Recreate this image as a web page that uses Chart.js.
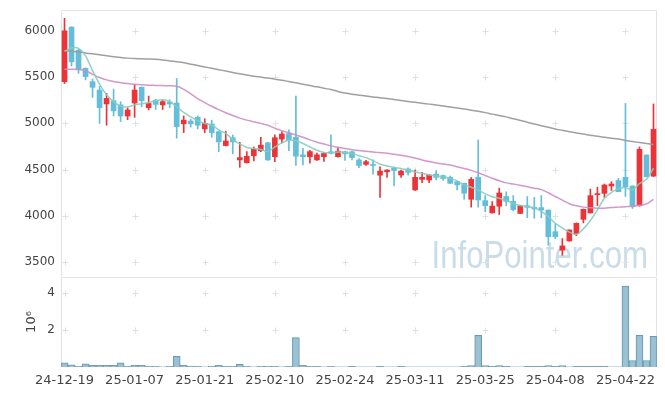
<!DOCTYPE html>
<html>
<head>
<meta charset="utf-8">
<script src="https://cdn.jsdelivr.net/npm/chart.js@4"></script>
<style>
body { margin: 0; background: #fff; }
#wrap { position: relative; width: 665px; height: 396px; }
#price { position: absolute; left: 0; top: 0; }
#volume { position: absolute; left: 0; top: 269px; }
</style>
</head>
<body>
<div id="wrap">
    <canvas id="price" width="665" height="285"></canvas>
    <canvas id="volume" width="665" height="127"></canvas>
</div>
<script>
const dates = ["24-12-19", "24-12-20", "24-12-23", "24-12-24", "24-12-26", "24-12-27", "24-12-30",
    "25-01-02", "25-01-03", "25-01-06", "25-01-07", "25-01-08", "25-01-09", "25-01-10", "25-01-13",
    "25-01-14", "25-01-15", "25-01-16", "25-01-17", "25-01-20", "25-01-21", "25-01-22", "25-01-23",
    "25-01-24", "25-01-31", "25-02-03", "25-02-04", "25-02-05", "25-02-06", "25-02-07", "25-02-10",
    "25-02-11", "25-02-12", "25-02-13", "25-02-14", "25-02-17", "25-02-18", "25-02-19", "25-02-20",
    "25-02-21", "25-02-24", "25-02-25", "25-02-26", "25-02-27", "25-02-28", "25-03-04", "25-03-05",
    "25-03-06", "25-03-07", "25-03-10", "25-03-11", "25-03-12", "25-03-13", "25-03-14", "25-03-17",
    "25-03-18", "25-03-19", "25-03-20", "25-03-21", "25-03-24", "25-03-25", "25-03-26", "25-03-27",
    "25-03-28", "25-03-31", "25-04-01", "25-04-02", "25-04-03", "25-04-04", "25-04-07", "25-04-08",
    "25-04-09", "25-04-10", "25-04-11", "25-04-14", "25-04-15", "25-04-16", "25-04-17", "25-04-18",
    "25-04-21", "25-04-22", "25-04-23", "25-04-24", "25-04-25", "25-04-28"];

const open = [5450, 6040, 5790, 5595, 5450, 5360, 5210, 5245, 5200, 5080, 5220, 5390, 5170, 5250, 5200,
    5230, 5220, 4995, 5025, 5065, 4940, 4993, 4910, 4760, 4845, 4605, 4575, 4650, 4705, 4790, 4640,
    4830, 4890, 4850, 4660, 4640, 4605, 4640, 4693, 4640, 4695, 4693, 4605, 4557, 4555, 4440, 4477,
    4515, 4442, 4507, 4280, 4395, 4388, 4452, 4435, 4417, 4370, 4352, 4180, 4417, 4165, 4033, 4105,
    4210, 4158, 4027, 4110, 4093, 4090, 4063, 3830, 3630, 3730, 3808, 3963, 4032, 4230, 4244, 4323,
    4381, 4417, 4323, 4110, 4658, 4430];
const high = [6135, 6045, 5800, 5600, 5480, 5400, 5325, 5370, 5235, 5170, 5415, 5395, 5295, 5260, 5250,
    5255, 5485, 5080, 5045, 5080, 5050, 5035, 4915, 4915, 4875, 4795, 4695, 4745, 4850, 4795, 4875,
    4910, 4930, 5295, 4730, 4710, 4680, 4680, 4875, 4735, 4700, 4700, 4620, 4600, 4605, 4530, 4500,
    4530, 4495, 4520, 4495, 4470, 4450, 4490, 4440, 4430, 4375, 4355, 4415, 4820, 4220, 4155, 4300,
    4260, 4220, 4115, 4210, 4200, 4220, 4065, 3910, 3755, 3850, 3925, 4075, 4290, 4310, 4345, 4370,
    4405, 5215, 4325, 4745, 4660, 5210];
const low = [5430, 5620, 5540, 5470, 5280, 5000, 4980, 5080, 5020, 5040, 5065, 5180, 5145, 5150, 5150,
    5170, 4840, 4900, 4960, 4940, 4900, 4850, 4695, 4755, 4670, 4525, 4570, 4595, 4695, 4600, 4585,
    4790, 4705, 4545, 4550, 4570, 4600, 4590, 4670, 4635, 4600, 4605, 4520, 4545, 4450, 4200, 4415,
    4325, 4415, 4440, 4275, 4360, 4360, 4390, 4385, 4350, 4280, 4180, 4095, 4095, 4045, 4030, 4015,
    4110, 4055, 4025, 3980, 3975, 3980, 3685, 3755, 3575, 3725, 3785, 3925, 4030, 4110, 4200, 4275,
    4260, 4210, 4080, 4105, 4420, 4425];
const close = [6000, 5665, 5585, 5505, 5390, 5170, 5270, 5135, 5080, 5145, 5360, 5245, 5215, 5205, 5235,
    5210, 4965, 5035, 4995, 4980, 5000, 4900, 4800, 4810, 4800, 4630, 4645, 4720, 4765, 4605, 4845,
    4885, 4820, 4645, 4640, 4695, 4660, 4675, 4676, 4700, 4670, 4630, 4545, 4586, 4545, 4485, 4496,
    4490, 4485, 4471, 4417, 4417, 4442, 4417, 4405, 4352, 4335, 4245, 4395, 4172, 4110, 4106, 4248,
    4158, 4068, 4110, 4093, 4075, 4063, 3775, 3775, 3676, 3848, 3920, 4071, 4219, 4237, 4334, 4345,
    4262, 4316, 4100, 4720, 4424, 4935];

const ma5 = [5780, 5815, 5810, 5730, 5570, 5425, 5310, 5235, 5185, 5178, 5200, 5212, 5225, 5245, 5255,
    5235, 5180, 5118, 5070, 5030, 4998, 4980, 4930, 4892, 4825, 4778, 4740, 4728, 4718, 4695, 4745,
    4790, 4818, 4812, 4782, 4745, 4710, 4685, 4682, 4690, 4685, 4678, 4650, 4630, 4598, 4560, 4540,
    4522, 4512, 4496, 4475, 4460, 4442, 4432, 4424, 4406, 4378, 4336, 4310, 4280, 4238, 4208, 4190,
    4165, 4135, 4112, 4098, 4088, 4050, 3992, 3920, 3870, 3825, 3800, 3860, 3950, 4065, 4190, 4255,
    4295, 4305, 4280, 4350, 4395, 4515];
const ma20 = [5585, 5585, 5583, 5568, 5530, 5495, 5470, 5452, 5440, 5430, 5422, 5416, 5412, 5410, 5408,
    5406, 5400, 5368, 5320, 5268, 5225, 5185, 5148, 5115, 5085, 5057, 5035, 5017, 5000, 4980, 4948,
    4922, 4898, 4875, 4850, 4822, 4797, 4777, 4757, 4742, 4728, 4716, 4706, 4698, 4690, 4684, 4677,
    4666, 4655, 4642, 4625, 4605, 4587, 4572, 4561, 4550, 4532, 4512, 4492, 4466, 4437, 4407, 4380,
    4357, 4345, 4332, 4316, 4300, 4284, 4250, 4210, 4170, 4132, 4110, 4095, 4088, 4083, 4083, 4090,
    4095, 4100, 4105, 4115, 4130, 4180];
const ma60 = [5785, 5778, 5770, 5760, 5752, 5742, 5730, 5720, 5712, 5705, 5700, 5697, 5695, 5692, 5685,
    5675, 5665, 5655, 5640, 5625, 5610, 5595, 5580, 5565, 5550, 5535, 5522, 5510, 5500, 5490, 5478,
    5466, 5452, 5438, 5422, 5408, 5395, 5380, 5365, 5345, 5328, 5315, 5305, 5295, 5286, 5278, 5268,
    5258, 5248, 5237, 5227, 5218, 5208, 5198, 5188, 5177, 5166, 5155, 5143, 5130, 5116, 5100, 5085,
    5070, 5050, 5032, 5012, 4994, 4975, 4957, 4940, 4925, 4910, 4897, 4884, 4872, 4860, 4850, 4840,
    4830, 4815, 4803, 4793, 4782, 4772];

const volume = [230000, 120000, 40000, 170000, 90000, 90000, 90000, 90000, 230000, 40000, 90000, 90000,
    40000, 40000, 5000, 40000, 570000, 90000, 40000, 40000, 5000, 40000, 90000, 40000, 40000, 150000,
    40000, 5000, 40000, 40000, 40000, 5000, 40000, 1580000, 90000, 40000, 40000, 5000, 40000, 5000,
    5000, 30000, 5000, 5000, 5000, 30000, 5000, 5000, 30000, 5000, 5000, 5000, 5000, 5000, 5000, 5000,
    5000, 30000, 80000, 1700000, 80000, 30000, 80000, 30000, 5000, 5000, 30000, 30000, 30000, 80000,
    30000, 80000, 5000, 30000, 30000, 30000, 30000, 30000, 5000, 5000, 4350000, 350000, 1700000,
    350000, 1650000];

const priceTicks = [3500, 4000, 4500, 5000, 5500, 6000];
const volumeTicks = [2000000, 4000000];
const dateTicks = ["24-12-19", "25-01-07", "25-01-21", "25-02-10", "25-02-24", "25-03-11", "25-03-25",
    "25-04-08", "25-04-22"];

const upColor = "rgb(236,52,56)";
const downColor = "rgb(100,190,218)";
const candleColors = close.map((c, i) => c >= open[i] ? upColor : downColor);
const labelFont = {family: "DejaVu Sans", size: 12};
// invisible tick marks keep the labels 6px off the axis without adding vertical padding
const hiddenTicks = {display: true, drawOnChartArea: false, drawTicks: true, tickLength: 6, color: "rgba(0,0,0,0)"};

// little "+" marks where the grid lines would cross, plus the frame
const crossGrid = {
    id: "crossGrid",
    beforeDatasetsDraw(chart, args, opts) {
        const {ctx, chartArea: a, scales} = chart;
        const l = Math.round(a.left) + 0.5, r = Math.round(a.right) - 0.5;
        const t = Math.round(a.top) + 0.5, b = Math.round(a.bottom) - 0.5;
        ctx.save();
        ctx.lineWidth = 1;
        ctx.strokeStyle = "#e2e2e2";
        ctx.beginPath();
        ctx.moveTo(l, b); ctx.lineTo(l, t); ctx.lineTo(r, t); ctx.lineTo(r, b);
        ctx.stroke();
        ctx.strokeStyle = "#e0e0e0";
        ctx.beginPath();
        dates.forEach((d, i) => {
            if (!dateTicks.includes(d)) return;
            const x = Math.round(scales.x.getPixelForValue(i)) + 0.5;
            scales.y.ticks.forEach(tk => {
                const y = Math.round(scales.y.getPixelForValue(tk.value)) + 0.5;
                ctx.moveTo(x - 3, y); ctx.lineTo(x + 3, y);
                ctx.moveTo(x, y - 3); ctx.lineTo(x, y + 3);
            });
        });
        ctx.stroke();
        ctx.restore();
    }
};

const watermark = {
    id: "watermark",
    beforeDatasetsDraw(chart) {
        const {ctx, chartArea: a} = chart;
        ctx.save();
        ctx.translate(a.right - 9, a.bottom - 9);
        ctx.scale(0.82, 1);
        ctx.font = '38px "Liberation Sans", sans-serif';
        ctx.fillStyle = "rgba(150,186,208,0.5)";
        ctx.textAlign = "right";
        ctx.textBaseline = "alphabetic";
        ctx.fillText("InfoPointer.com", 0, 0);
        ctx.restore();
    }
};

let priceChart = new Chart(document.getElementById("price"), {
    type: "bar",
    data: {
        labels: dates,
        datasets: [
            {type: "line", label: "MA5", data: ma5, borderColor: "rgba(135,204,190,0.9)", borderWidth: 1.5,
                pointRadius: 0, tension: 0.3, order: 0},
            {type: "line", label: "MA20", data: ma20, borderColor: "rgba(205,140,200,0.9)", borderWidth: 1.5,
                pointRadius: 0, tension: 0.3, order: 0},
            {type: "line", label: "MA60", data: ma60, borderColor: "rgba(155,155,155,0.95)", borderWidth: 1.5,
                pointRadius: 0, tension: 0.3, order: 0},
            {label: "body", data: dates.map((d, i) => [open[i], close[i]]), backgroundColor: candleColors,
                barThickness: 5, minBarLength: 1, grouped: false, order: 1},
            {label: "wick", data: dates.map((d, i) => [low[i], high[i]]), backgroundColor: candleColors,
                barThickness: 1, grouped: false, order: 2}
        ]
    },
    options: {
        responsive: false,
        animation: false,
        layout: {padding: {top: 10, right: 8, bottom: 8, left: 0}},
        plugins: {legend: {display: false}, tooltip: {enabled: false}},
        scales: {
            x: {display: false, offset: true},
            y: {
                min: 3340, max: 6225,
                afterBuildTicks: s => { s.ticks = priceTicks.map(v => ({value: v})); },
                afterFit: s => { s.width = 61; },
                grid: hiddenTicks,
                border: {display: false},
                ticks: {color: "#444", font: labelFont, padding: 0, callback: v => String(v)}
            }
        }
    },
    plugins: [watermark, crossGrid]
});

let volumeChart = new Chart(document.getElementById("volume"), {
    type: "bar",
    data: {
        labels: dates,
        datasets: [
            {label: "volume", data: volume, backgroundColor: "rgba(150,190,208,0.95)",
                borderColor: "rgba(100,155,182,1)", borderWidth: 1,
                barPercentage: 1, categoryPercentage: 1}
        ]
    },
    options: {
        responsive: false,
        animation: false,
        layout: {padding: {top: 8, right: 8, bottom: 0, left: 0}},
        plugins: {legend: {display: false}, tooltip: {enabled: false}},
        scales: {
            x: {
                offset: true,
                grid: {display: false},
                border: {display: false},
                afterFit: s => { s.height = 29; },
                ticks: {
                    color: "#444", font: {family: "DejaVu Sans", size: 13}, padding: -2,
                    autoSkip: false, maxRotation: 0, minRotation: 0,
                    callback: (v, i) => dateTicks.includes(dates[i]) ? dates[i] : ""
                }
            },
            y: {
                min: 0, max: 4840000,
                afterBuildTicks: s => { s.ticks = volumeTicks.map(v => ({value: v})); },
                afterFit: s => { s.width = 61; },
                grid: hiddenTicks,
                border: {display: false},
                title: {display: true, text: "10⁶", color: "#444", font: {family: "DejaVu Sans", size: 13},
                    padding: {top: 24, bottom: 0}},
                ticks: {color: "#444", font: labelFont, padding: 0, callback: v => String(v / 1000000)}
            }
        }
    },
    plugins: [{...crossGrid, id: "crossGridVol"}]
});
</script>
</body>
</html>
